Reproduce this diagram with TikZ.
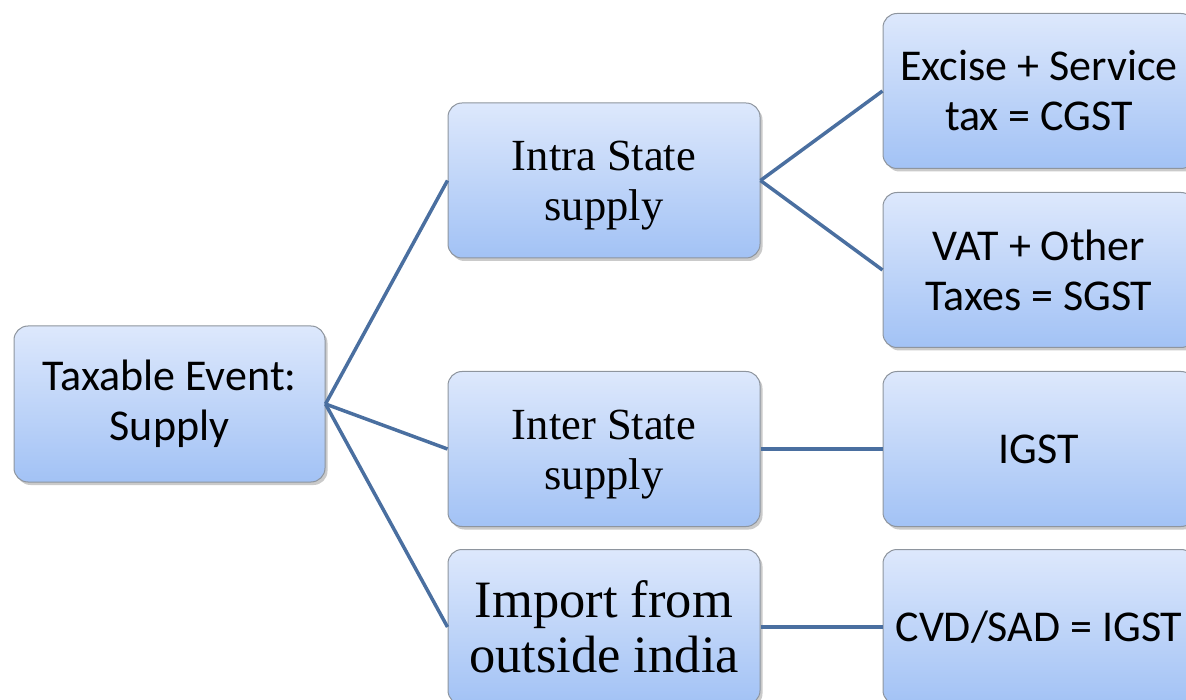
\documentclass[tikz,border=0pt]{standalone}
\usepackage{fontspec}
\setmainfont{Liberation Serif}
\newfontfamily\calib{Carlito}
\usetikzlibrary{shadows,positioning}
\definecolor{boxtop}{HTML}{DDE8FC}
\definecolor{boxbot}{HTML}{A2C2F5}
\definecolor{boxline}{HTML}{8E959E}
\definecolor{linkcol}{HTML}{4A6FA0}
\newcommand{\lowtext}[1]{\raisebox{0pt}[\dimexpr\height+10pt\relax][\depth]{\begin{tabular}{@{}c@{}}#1\end{tabular}}}
\tikzset{
  box/.style={draw=boxline, line width=1pt, rounded corners=14pt,
    top color=boxtop, bottom color=boxbot, minimum width=312pt,
    minimum height=155pt, align=center, inner sep=0pt,
    drop shadow={shadow xshift=2.5pt, shadow yshift=-3pt, opacity=0.35, fill=black!60}},
  sansbox/.style={box, font=\calib\fontsize{44}{50}\selectfont},
  serifbox/.style={box, font=\fontsize{44.5}{50}\selectfont},
  bigserif/.style={box, font=\fontsize{52.5}{55}\selectfont},
  link/.style={draw=linkcol, line width=3.5pt}
}
\begin{document}
\begin{tikzpicture}[x=1pt,y=-1pt]
\useasboundingbox (0,0) rectangle (1186,700);
\node[sansbox, minimum width=311pt, minimum height=156pt] (root) at (169.5,404) {Taxable Event:\\Supply};
\node[serifbox] (intra) at (604,180.5) {\lowtext{Intra State\\supply}};
\node[serifbox] (inter) at (604,449) {\lowtext{Inter State\\supply}};
\node[bigserif] (import) at (604,627) {Import from\\outside india};
\node[sansbox] (cgst) at (1039,91) {Excise + Service\\tax = CGST};
\node[sansbox] (sgst) at (1039,270) {VAT + Other\\Taxes = SGST};
\node[sansbox] (igst) at (1039,449) {IGST};
\node[sansbox] (cvd) at (1039,627) {CVD/SAD = IGST};
\draw[link] (root.east) -- (intra.west);
\draw[link] (root.east) -- (inter.west);
\draw[link] (root.east) -- (import.west);
\draw[link] (intra.east) -- (cgst.west);
\draw[link] (intra.east) -- (sgst.west);
\draw[link] (inter.east) -- (igst.west);
\draw[link] (import.east) -- (cvd.west);
\end{tikzpicture}
\end{document}
